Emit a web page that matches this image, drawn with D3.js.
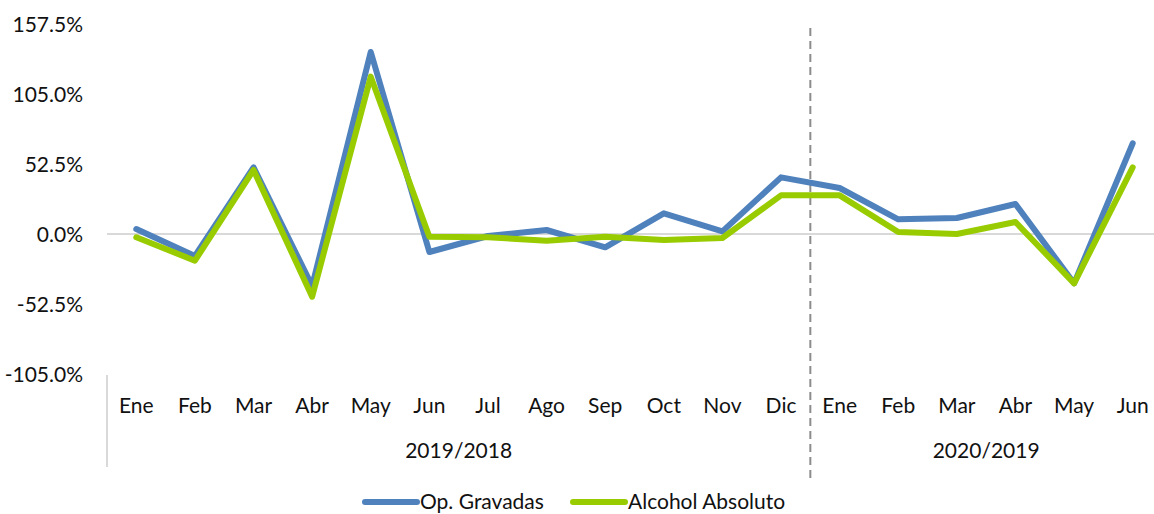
<!DOCTYPE html>
<html>
<head>
<meta charset="utf-8">
<script src="https://cdn.jsdelivr.net/npm/d3@7"></script>
<style>
  html, body { margin: 0; padding: 0; background: #fff; }
  svg { display: block; }
  text { font-family: Lato, "Open Sans", sans-serif; fill: #111; }
</style>
</head>
<body>
<svg id="chart" width="1154" height="514"></svg>
<script>
// Monthly year-over-year change, in percent
const months = ["Ene","Feb","Mar","Abr","May","Jun","Jul","Ago","Sep","Oct","Nov","Dic",
                "Ene","Feb","Mar","Abr","May","Jun"];
const periods = [
  { label: "2019/2018", start: 0, end: 12 },
  { label: "2020/2019", start: 12, end: 18 }
];
const opGravadas = [3.7, -16.5, 50, -39, 136.5, -13.5, -1.5, 3, -10, 15.5, 2, 42.5,
                    34.5, 11, 12, 22.5, -37, 68];
const alcoholAbsoluto = [-2.5, -20, 48, -47, 118, -2, -2.5, -5, -2, -4.5, -3, 29,
                         29, 1.5, 0, 9, -37, 50];
const yTicks = [-105, -52.5, 0, 52.5, 105, 157.5];
const seriesNames = ["Op. Gravadas", "Alcohol Absoluto"];
const seriesColors = ["#4f81bd", "#99cc00"];

const svg = d3.select("#chart");
const plotLeft = 107, plotRight = 1162, plotTop = 24, plotBottom = 374;
const fontSize = 21;

const x = d3.scaleBand().domain(d3.range(months.length)).range([plotLeft, plotRight]);
const y = d3.scaleLinear().domain([-105, 157.5]).range([plotBottom, plotTop]);
const xc = i => x(i) + x.bandwidth() / 2;

// Percent labels with a plain hyphen for negatives
const pct = d3.formatLocale({ decimal: ".", thousands: ",", grouping: [3],
                              currency: ["", ""], minus: "-" }).format(".1f");

// Value axis labels
const yAxis = d3.axisLeft(y).tickValues(yTicks).tickSize(0).tickPadding(0)
  .tickFormat(d => pct(d) + "%");
const yg = svg.append("g").attr("transform", "translate(83,0)").call(yAxis);
yg.select(".domain").remove();
yg.selectAll("text").attr("font-size", fontSize).attr("font-family", "Lato, sans-serif")
  .attr("fill", "#111").attr("dy", "0.35em");

// Zero baseline
svg.append("line")
  .attr("x1", plotLeft).attr("x2", 1154)
  .attr("y1", y(0)).attr("y2", y(0))
  .attr("stroke", "#d9d9d9").attr("stroke-width", 2);

// Category axis: month labels
const xAxis = d3.axisBottom(x).tickSize(0).tickPadding(0).tickFormat(i => months[i]);
const xg = svg.append("g").attr("transform", "translate(0,406)").call(xAxis);
xg.select(".domain").remove();
xg.selectAll("text").attr("font-size", fontSize).attr("font-family", "Lato, sans-serif")
  .attr("fill", "#111").attr("dy", "0.35em");

// Period labels
svg.selectAll(".period").data(periods).enter().append("text")
  .attr("class", "period")
  .attr("x", d => (x(d.start) + (d.end < months.length ? x(d.end) : plotRight)) / 2)
  .attr("y", 451).attr("dy", "0.35em")
  .attr("text-anchor", "middle").attr("font-size", fontSize)
  .text(d => d.label);

// Left edge of the category axis
svg.append("line")
  .attr("x1", plotLeft).attr("x2", plotLeft).attr("y1", 375).attr("y2", 467)
  .attr("stroke", "#d9d9d9").attr("stroke-width", 2);

// Dashed separator between periods
svg.append("line")
  .attr("x1", x(12)).attr("x2", x(12)).attr("y1", 28).attr("y2", 478)
  .attr("stroke", "#8c8c8c").attr("stroke-width", 2)
  .attr("stroke-dasharray", "8,5");

// Series lines
const line = d3.line().x((d, i) => xc(i)).y(d => y(d));
[opGravadas, alcoholAbsoluto].forEach((vals, k) => {
  svg.append("path").datum(vals)
    .attr("d", line)
    .attr("fill", "none")
    .attr("stroke", seriesColors[k])
    .attr("stroke-width", 6)
    .attr("stroke-linejoin", "round")
    .attr("stroke-linecap", "round");
});

// Legend
const legendX = [365, 573];
seriesNames.forEach((name, k) => {
  const g = svg.append("g").attr("transform", `translate(${legendX[k]},502)`);
  g.append("line").attr("x1", 0).attr("x2", 52).attr("y1", 0).attr("y2", 0)
    .attr("stroke", seriesColors[k]).attr("stroke-width", 6).attr("stroke-linecap", "round");
  g.append("text").attr("x", 55).attr("dy", "0.35em").attr("font-size", fontSize).text(name);
});
</script>
</body>
</html>
